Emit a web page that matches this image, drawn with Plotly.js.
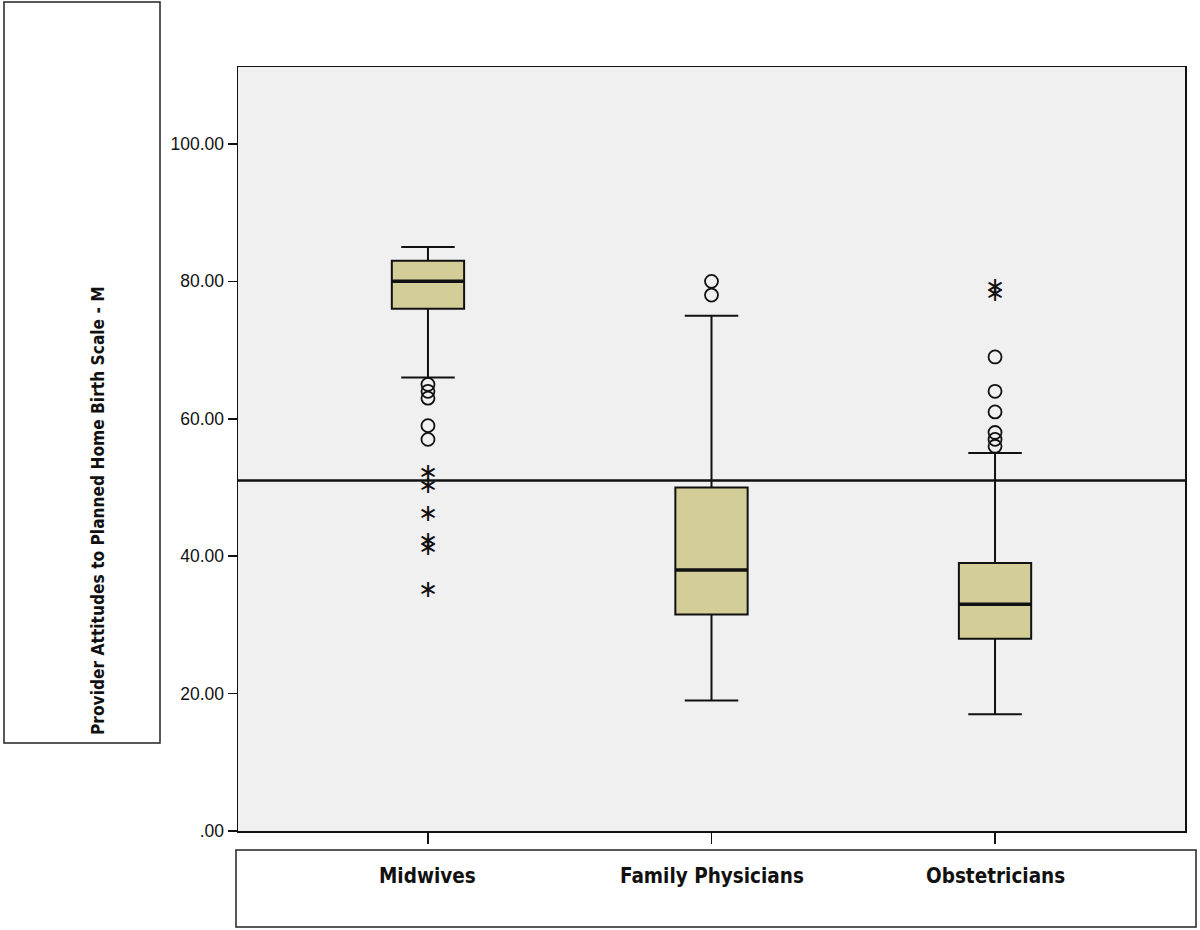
<!DOCTYPE html>
<html>
<head>
<meta charset="utf-8">
<script src="https://cdn.plot.ly/plotly-3.0.1.min.js"></script>
<style>html,body{margin:0;padding:0;background:#fff;}#chart{width:1200px;height:930px;}</style>
</head>
<body>
<div id="chart"></div>
<script>
// ---- Data ----
const categories = ["Midwives", "Family Physicians", "Obstetricians"];
const q1 = [76, 31.5, 28];
const medians = [80, 38, 33];
const q3 = [83, 50, 39];
const lowerWhisker = [66, 19, 17];
const upperWhisker = [85, 75, 55];
// mild outliers (circles)
const circleCats = ["Midwives","Midwives","Midwives","Midwives","Midwives",
                    "Family Physicians","Family Physicians",
                    "Obstetricians","Obstetricians","Obstetricians","Obstetricians","Obstetricians","Obstetricians"];
const circleVals = [65, 64, 63, 59, 57,
                    80, 78,
                    69, 64, 61, 58, 57, 56];
// extreme outliers (stars)
const starCats = ["Midwives","Midwives","Midwives","Midwives","Midwives","Midwives",
                  "Obstetricians","Obstetricians"];
const starVals = [52, 50, 46, 42, 41, 35,
                  79, 78];
const refLine = 51;
const yTickVals = [0, 20, 40, 60, 80, 100];
const yTickText = [".00", "20.00", "40.00", "60.00", "80.00", "100.00"];
const yTitle = "Provider Attitudes to Planned Home Birth Scale - M";

// ---- Geometry helpers (pixel -> paper) ----
const L = 238, R = 15, T = 67, B = 99, W = 1200, H = 930;
const pw = W - L - R, ph = H - T - B;
const px = v => (v - L) / pw;
const py = v => (H - B - v) / ph;

const boxColor = "#d3cd98";

const traces = [
  {
    type: "box",
    x: categories,
    q1: q1, median: medians, q3: q3,
    lowerfence: lowerWhisker, upperfence: upperWhisker,
    width: 0.255,
    whiskerwidth: 0.74,
    fillcolor: boxColor,
    line: {color: "#111", width: 2},
    boxpoints: false,
    hoverinfo: "skip",
    showlegend: false
  },
  {
    type: "box",
    x: categories,
    q1: medians, median: medians, q3: medians,
    lowerfence: medians, upperfence: medians,
    width: 0.255,
    whiskerwidth: 0,
    fillcolor: "rgba(0,0,0,0)",
    line: {color: "#111", width: 3.5},
    boxpoints: false,
    hoverinfo: "skip",
    showlegend: false
  },
  {
    type: "scatter",
    mode: "markers",
    x: circleCats, y: circleVals,
    marker: {symbol: "circle-open", size: 13, color: "#111", line: {width: 1.8, color: "#111"}},
    hoverinfo: "skip",
    showlegend: false
  },
  {
    type: "scatter",
    mode: "text",
    x: starCats, y: starVals,
    text: starVals.map(() => "∗"),
    textposition: "middle center",
    textfont: {family: "DejaVu Sans", size: 24, color: "#111"},
    hoverinfo: "skip",
    showlegend: false
  }
];

const layout = {
  width: W, height: H,
  margin: {l: L, r: R, t: T, b: B, pad: 0},
  paper_bgcolor: "#ffffff",
  plot_bgcolor: "#f0f0f0",
  showlegend: false,
  font: {family: "Liberation Sans, Arial, sans-serif", color: "#111", size: 16},
  xaxis: {
    type: "category",
    range: [-0.67, 2.67],
    showgrid: false, zeroline: false,
    showline: true, linecolor: "#111", linewidth: 1.5, mirror: true,
    ticks: "outside", ticklen: 11, tickwidth: 1.5, tickcolor: "#111",
    showticklabels: false,
    fixedrange: true
  },
  yaxis: {
    range: [0, 111.2],
    tickvals: yTickVals, ticktext: yTickText,
    showgrid: false, zeroline: false,
    showline: true, linecolor: "#111", linewidth: 1.5, mirror: true,
    ticks: "outside", ticklen: 9, tickwidth: 1.5, tickcolor: "#111",
    tickfont: {family: "Liberation Sans, Arial, sans-serif", size: 17.5, color: "#111"},
    fixedrange: true
  },
  shapes: [
    {type: "line", xref: "paper", x0: 0, x1: 1, yref: "y", y0: refLine, y1: refLine,
     line: {color: "#111", width: 2.5}},
    {type: "rect", xref: "paper", yref: "paper",
     x0: px(4), x1: px(160), y0: py(743), y1: py(2),
     line: {color: "#222", width: 1.5}, fillcolor: "rgba(0,0,0,0)"},
    {type: "rect", xref: "paper", yref: "paper",
     x0: px(236), x1: px(1196), y0: py(927), y1: py(850),
     line: {color: "#222", width: 1.5}, fillcolor: "rgba(0,0,0,0)"}
  ],
  annotations: [
    {xref: "paper", yref: "paper", x: px(98), y: py(511), text: "<b>" + yTitle + "</b>",
     textangle: -90, showarrow: false, xanchor: "center", yanchor: "middle",
     font: {family: "DejaVu Sans Condensed, sans-serif", size: 17.2, color: "#111"}}
  ].concat(categories.map(c => ({
     xref: "x", yref: "paper", x: c, y: py(876), text: "<b>" + c + "</b>",
     showarrow: false, xanchor: "center", yanchor: "middle",
     font: {family: "DejaVu Sans Condensed, sans-serif", size: 20.5, color: "#111"}
  })))
};

Plotly.newPlot("chart", traces, layout, {displayModeBar: false, staticPlot: true});
</script>
</body>
</html>
